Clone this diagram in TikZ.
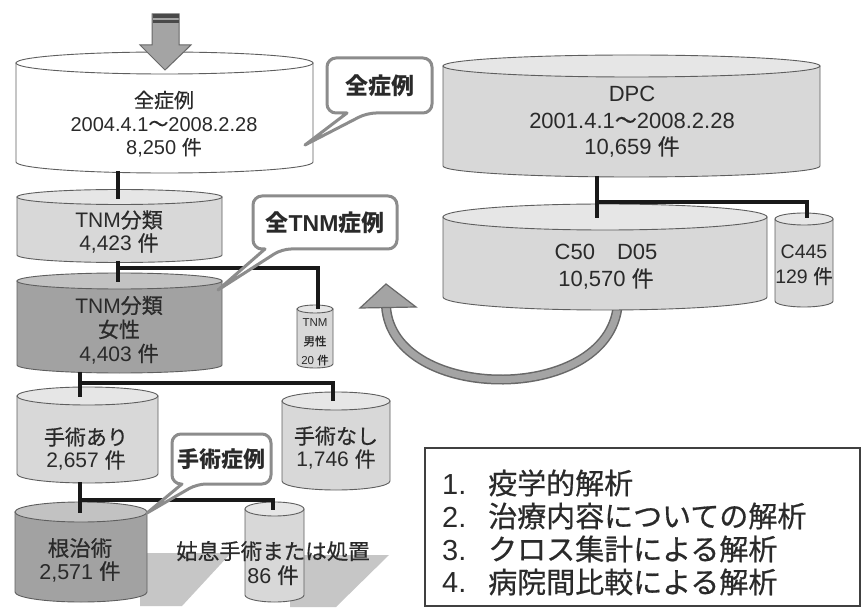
\documentclass[tikz,border=0pt]{standalone}
\usepackage{fontspec}
\setmainfont{Liberation Sans}
\newfontfamily\jp[FakeBold=0.6]{Noto Sans CJK JP}
\newfontfamily\jpb{Noto Sans CJK JP}
\usetikzlibrary{calc}
\definecolor{cylline}{HTML}{5E5E5E}
\definecolor{txt}{HTML}{2A2A2A}
\definecolor{lightbody}{HTML}{D8D8D8}
\definecolor{lighttop}{HTML}{E6E6E6}
\definecolor{darkbody}{HTML}{A2A2A2}
\definecolor{darktop}{HTML}{C2C2C2}
\definecolor{callgray}{HTML}{8C8C8C}
\definecolor{shadowgray}{HTML}{C6C6C6}
\definecolor{arrowfill}{HTML}{A4A4A4}
\definecolor{arrowline}{HTML}{686868}
\newcommand\drawcyl[7]{%
  \path[cyl, fill=#6] (#1-#4,#2) -- (#1-#4,#3) arc[start angle=180,end angle=0,x radius=#4,y radius=#5] -- (#1+#4,#2) -- cycle;
  \path[cyl, fill=#7] (#1,#2) ellipse[x radius=#4, y radius=#5];
}
\begin{document}
\begin{tikzpicture}[x=1pt,y=-1pt,
  cyl/.style={draw=cylline, line width=0.9pt},
  conn/.style={draw=black!90, line width=4.5pt},
  lbl/.style={text=txt, align=center, inner sep=0pt},
  callout/.style={draw=callgray, line width=3pt, fill=white, line join=round},
  calltext/.style={text=txt, inner sep=0pt, font=\fontsize{23}{23}\selectfont\bfseries},
  boxline/.style={text=txt, anchor=west, inner sep=0pt, font=\fontsize{29}{29}\selectfont\jp}]
\useasboundingbox (0,0) rectangle (864,609);
\fill[white] (0,0) rectangle (864,609);

% ---- shadows
\fill[shadowgray] (140,553) -- (231,553) -- (182,606) -- (140,606) -- cycle;
\fill[shadowgray] (290,555) -- (389,555) -- (336,607) -- (290,607) -- cycle;

% ---- curved arrow (behind C50)
\draw[line width=10pt, arrowline] (618,300) .. controls (616,405) and (392,405) .. (386,306);
\draw[line width=7pt, arrowfill] (618,300) .. controls (616,405) and (392,405) .. (386,306);
\filldraw[fill=arrowfill, draw=arrowline, line width=1.2pt, line join=miter] (360,308) -- (386,284) -- (416,307) -- cycle;

% ---- cylinders
\drawcyl{164.5}{63}{162}{148.5}{11}{white}{white}
\drawcyl{119.5}{197}{255}{102.5}{7.5}{lightbody}{lighttop}
\drawcyl{119.5}{281}{365}{102.5}{8}{darkbody}{darktop}
\drawcyl{315}{309}{364}{18}{4}{lightbody}{lighttop}
\drawcyl{87.5}{396}{474}{70.5}{9}{lightbody}{lighttop}
\drawcyl{336}{401}{481}{54}{9}{lightbody}{lighttop}
\drawcyl{81}{512}{592}{66}{10}{darkbody}{darktop}
\drawcyl{274.5}{509}{595}{29.5}{7}{lightbody}{lighttop}
\drawcyl{631.5}{66}{166}{188.5}{11}{lightbody}{lighttop}
\drawcyl{605}{217}{297}{162}{13}{lightbody}{lighttop}
\drawcyl{804}{219}{301}{29}{6}{lightbody}{lighttop}

% ---- connection points
\coordinate (allB) at (118,171);
\coordinate (tnmT) at (118,199);
\coordinate (tnmB) at (118,261);
\coordinate (femT) at (118,282);
\coordinate (br1) at (118,268);
\coordinate (maleT) at (318,309);
\coordinate (femB) at (80,372);
\coordinate (ariT) at (80,397);
\coordinate (br2) at (80,383);
\coordinate (nashiT) at (333,401);
\coordinate (ariB) at (80,482);
\coordinate (konT) at (80,513);
\coordinate (br3) at (80,500);
\coordinate (kosoT) at (273,510);
\coordinate (dpcB) at (597,176);
\coordinate (c50T) at (597,218);
\coordinate (br4) at (597,202);
\coordinate (c445T) at (807,218);

\draw[conn] (allB) -- (tnmT);
\draw[conn] (tnmB) -- (femT);
\draw[conn] (br1) -| (maleT);
\draw[conn] (femB) -- (ariT);
\draw[conn] (br2) -| (nashiT);
\draw[conn] (ariB) -- (konT);
\draw[conn] (br3) -| (kosoT);
\draw[conn] (dpcB) -- (c50T);
\draw[conn] (br4) -| (c445T);

% ---- cylinder labels
\node[lbl, font=\fontsize{20}{23.5}\selectfont] (all) at (164,124) {{\jp 全症例}\\2004.4.1{\jp ～}2008.2.28\\8,250 {\jp 件}};
\node[lbl, font=\fontsize{21}{23}\selectfont] (tnm) at (119,232) {TNM{\jp 分類}\\4,423 {\jp 件}};
\node[lbl, font=\fontsize{21}{24}\selectfont] (fem) at (119,330) {TNM{\jp 分類}\\{\jp 女性}\\4,403 {\jp 件}};
\node[lbl, font=\fontsize{11.5}{19}\selectfont] (male) at (315,342) {TNM\\{\jp 男性}\\20 {\jp 件}};
\node[lbl, font=\fontsize{21}{23}\selectfont] (ari) at (86,449) {{\jp 手術あり}\\2,657 {\jp 件}};
\node[lbl, font=\fontsize{21}{23}\selectfont] (nashi) at (336,448) {{\jp 手術なし}\\1,746 {\jp 件}};
\node[lbl, font=\fontsize{21.5}{23}\selectfont] (kon) at (80,560) {{\jp 根治術}\\2,571 {\jp 件}};
\node[lbl, font=\fontsize{21.5}{24}\selectfont] (koso) at (273,563) {{\jp 姑息手術または処置}\\86 {\jp 件}};
\node[lbl, font=\fontsize{22}{26.5}\selectfont] (dpc) at (632,122) {DPC\\2001.4.1{\jp ～}2008.2.28\\10,659 {\jp 件}};
\node[lbl, font=\fontsize{22}{27}\selectfont] (c50) at (606,267) {C50{\jp 　}D05\\10,570 {\jp 件}};
\node[lbl, font=\fontsize{19.5}{25}\selectfont] (c445) at (804,265) {C445\\129 {\jp 件}};

% ---- top arrow
\filldraw[fill=arrowfill, draw=arrowline, line width=1pt, line join=miter] (152,14) -- (179,14) -- (179,45) -- (191,45) -- (165,70) -- (140,45) -- (152,45) -- cycle;
\fill[arrowline!70!black] (152.5,14.5) rectangle (178.5,18);
\fill[arrowline!70!black] (152.5,20.5) rectangle (178.5,23);

% ---- callouts
\draw[callout] (305,145) -- (347,113) [rounded corners=9pt] -- (327,113) -- (327,58) -- (432,58) -- (432,113) -- (367,113) [sharp corners] -- cycle;
\node[calltext] (cA) at (380,86) {\jpb\bfseries 全症例};
\draw[callout] (218,290) -- (265,249) [rounded corners=9pt] -- (253,249) -- (253,196) -- (397,196) -- (397,249) -- (282,249) [sharp corners] -- cycle;
\node[calltext] (cB) at (325,223) {{\jpb\bfseries 全}TNM{\jpb\bfseries 症例}};
\draw[callout] (147,513) -- (182,484) [rounded corners=9pt] -- (172,484) -- (172,434) -- (271,434) -- (271,484) -- (197,484) [sharp corners] -- cycle;
\node[calltext, font=\fontsize{22}{22}\selectfont\bfseries] (cC) at (221,459) {\jpb\bfseries 手術症例};

% ---- analysis box
\draw[draw=black!75, line width=2.5pt, fill=white] (425,448) rectangle (860,606);
\node[boxline] (l1) at (442,483) {\makebox[46pt][l]{\fontspec{Liberation Sans}1.}疫学的解析};
\node[boxline] (l2) at (442,516) {\makebox[46pt][l]{\fontspec{Liberation Sans}2.}治療内容についての解析};
\node[boxline] (l3) at (442,549) {\makebox[46pt][l]{\fontspec{Liberation Sans}3.}クロス集計による解析};
\node[boxline] (l4) at (442,582) {\makebox[46pt][l]{\fontspec{Liberation Sans}4.}病院間比較による解析};
\end{tikzpicture}
\end{document}
